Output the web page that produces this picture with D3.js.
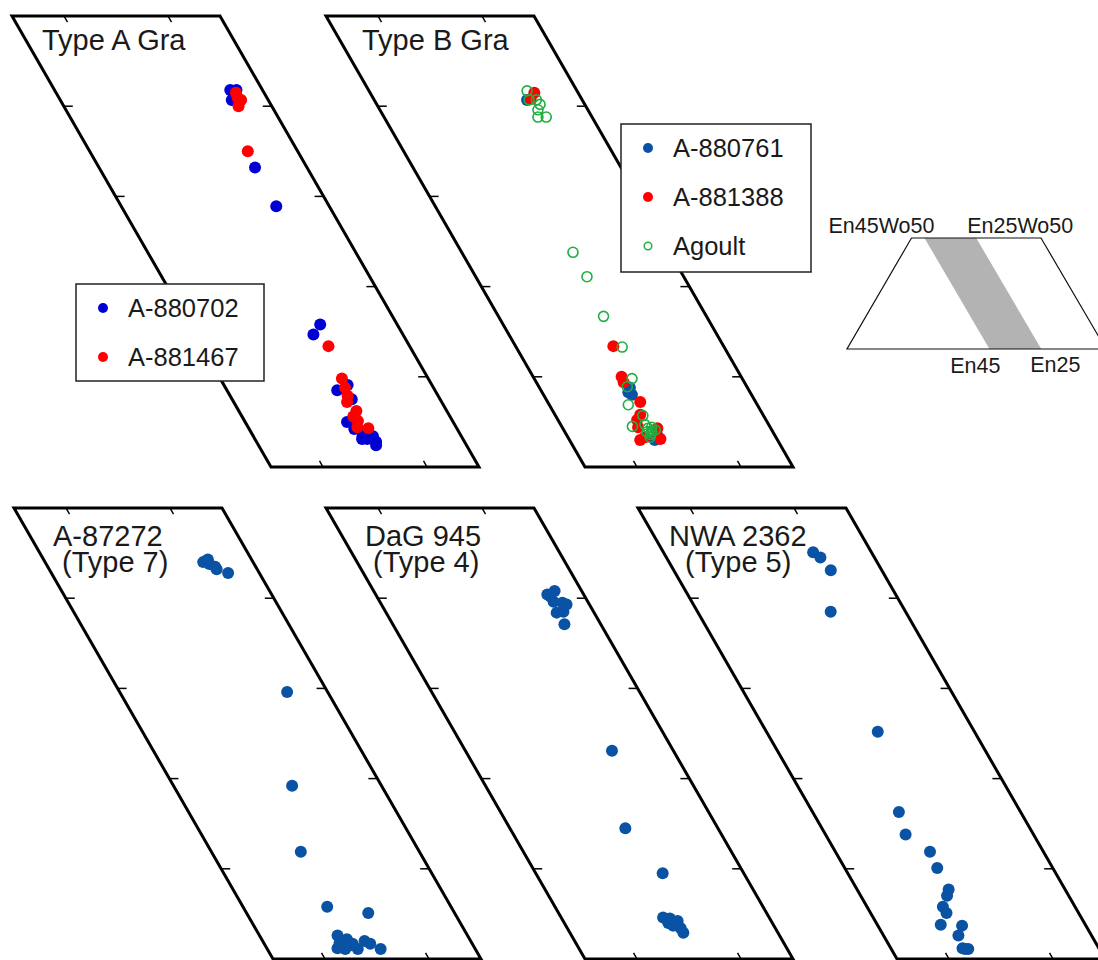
<!DOCTYPE html>
<html>
<head>
<meta charset="utf-8">
<script src="https://cdn.jsdelivr.net/npm/d3@7"></script>
<style>
  body { margin: 0; background: #fff; }
  text { font-family: "Liberation Sans", Arial, sans-serif; fill: #1a1a1a; }
</style>
</head>
<body>
<svg id="chart" width="1098" height="960"></svg>
<script>
// 数据: [En, Wo] (mol%)
const typeA_880702 = [[28.1,41.8],[27.5,41.8],[28.1,41.0],[28.5,40.7],[30.0,33.2],[30.1,28.9],[32.4,15.8],[33.6,14.7],
  [33.1,9.1],[34.4,8.5],[33.5,7.5],[35.2,5.0],[34.9,4.2],[34.5,3.4],[34.2,3.1],[33.5,2.8],[33.5,3.4],[34.7,3.1],[33.9,3.9],[33.7,2.4]];
const typeA_881467 = [[27.8,41.0],[27.6,40.7],[28.2,40.0],[27.7,41.5],[29.8,35.0],[32.8,13.4],[33.3,9.8],[33.5,8.8],
  [33.7,7.9],[34.1,7.2],[33.7,6.2],[34.3,5.6],[34.1,5.1],[34.5,4.4],[33.5,4.3]];
const typeB_880761 = [[30.3,40.7],[36.5,8.0],[36.7,8.3],[36.8,3.0],[36.3,8.8],[36.3,3.4]];
const typeB_881388 = [[29.2,41.5],[29.9,40.8],[35.6,13.4],[36.5,10.0],[36.6,9.4],[36.1,7.2],[36.8,5.8],[37.7,4.4],
  [36.2,3.1],[38.2,3.0],[37.6,3.3],[35.9,4.3],[37.4,5.2]];
const agoult = [[29.8,41.7],[30.1,40.7],[29.4,40.7],[29.8,39.6],[30.2,38.8],[29.4,38.8],[29.3,40.2],[34.3,23.8],
  [34.3,21.1],[34.9,16.7],[34.8,13.3],[35.6,9.8],[36.5,8.9],[37.4,6.9],[36.6,5.7],[38.2,4.5],[36.8,4.3],[36.7,3.8],
  [37.1,3.9],[37.1,3.3],[36.2,4.1],[36.9,4.7],[36.6,4.0],[36.9,3.6],[36.4,4.4]];
const a87272 = [[29.4,44.1],[29.3,43.8],[28.9,43.5],[28.9,43.2],[28.0,42.8],[29.8,44.0],[29.2,44.3],[28.9,29.6],
  [33.6,19.2],[36.4,11.9],[36.9,5.8],[33.3,5.1],[37.5,2.6],[36.8,2.2],[38.2,1.2],[37.5,1.1],[36.5,1.7],[36.3,1.1],
  [35.2,2.0],[34.8,1.7],[34.1,1.1],[37.7,1.8],[36.9,1.5]];
const dag945 = [[28.5,40.4],[27.6,40.8],[28.3,39.6],[27.2,39.3],[28.6,38.4],[27.9,38.5],[28.5,37.1],[28.3,40.2],
  [27.5,39.5],[30.9,23.1],[33.9,14.5],[32.8,9.5],[35.2,4.6],[34.6,4.5],[34.0,4.2],[34.7,3.7],[34.1,3.4],[34.1,2.9],[35.0,4.0]];
const nwa2362 = [[30.6,45.1],[30.2,44.5],[29.9,43.1],[32.2,38.5],[34.3,25.2],[36.7,16.3],[37.3,13.8],[35.9,11.9],
  [36.1,10.1],[36.2,7.7],[36.7,7.0],[37.7,5.8],[37.7,5.1],[38.9,3.8],[36.9,3.7],[37.8,2.6],[37.9,1.1],[37.6,1.1],[38.1,1.2]];

const woTicks = [10, 20, 30, 40];
const enTicks = [40, 30];
const enDomain = [45, 25];
const woDomain = [0, 50];

const colors = { blue: '#0000d2', navy: '#0a52a4', red: '#ff0000', green: '#1fb040' };

const svg = d3.select('#chart');
const W = 208, H = 451, S = 259;   // 平行四边形宽、高、错切量
const r = 6;

const enScale = d3.scaleLinear().domain(enDomain).range([0, W]);
const woScale = d3.scaleLinear().domain(woDomain).range([H, 0]);
const skew = wo => woScale(wo) * S / H;

function makePanel(x0, y0) {
  const g = svg.append('g').attr('transform', `translate(${x0},${y0})`);
  const px = (en, wo) => enScale(en) + skew(wo);
  const py = wo => woScale(wo);
  // 边框
  const corners = [[45, 50], [25, 50], [25, 0], [45, 0]].map(([e, w]) => [px(e, w), py(w)]);
  g.append('path')
    .attr('d', d3.line()(corners) + 'Z')
    .attr('fill', 'none').attr('stroke', '#000').attr('stroke-width', 3)
    .attr('stroke-linejoin', 'miter');
  // 侧边刻度
  woTicks.forEach(w => {
    g.append('line').attr('x1', px(45, w)).attr('x2', px(45, w) + 9)
      .attr('y1', py(w)).attr('y2', py(w)).attr('stroke', '#000').attr('stroke-width', 1.5);
    g.append('line').attr('x1', px(25, w)).attr('x2', px(25, w) - 9)
      .attr('y1', py(w)).attr('y2', py(w)).attr('stroke', '#000').attr('stroke-width', 1.5);
  });
  // 上下刻度 (沿斜边方向)
  const len = Math.hypot(S, H), dx = S / len * 7, dy = H / len * 7;
  enTicks.forEach(e => {
    g.append('line').attr('x1', px(e, 50)).attr('y1', py(50))
      .attr('x2', px(e, 50) + dx).attr('y2', py(50) + dy).attr('stroke', '#000').attr('stroke-width', 1.5);
    g.append('line').attr('x1', px(e, 0)).attr('y1', py(0))
      .attr('x2', px(e, 0) - dx).attr('y2', py(0) - dy).attr('stroke', '#000').attr('stroke-width', 1.5);
  });
  g.px = px; g.py = py;
  return g;
}

function dots(g, data, color, open) {
  g.selectAll(null).data(data).enter().append('circle')
    .attr('cx', d => g.px(d[0], d[1])).attr('cy', d => g.py(d[1]))
    .attr('r', open ? 5 : r)
    .attr('fill', open ? 'none' : color)
    .attr('stroke', color).attr('stroke-width', open ? 1.6 : 0);
}

// 标题: 一个 text, 多行用 tspan
function title(g, lines) {
  const t = g.append('text').attr('font-size', 29);
  lines.forEach(([s, x, y]) => {
    t.append('tspan').attr('x', x).attr('y', y).text(s);
  });
}

// 面板
const p1 = makePanel(12, 16);
dots(p1, typeA_880702, colors.blue);
dots(p1, typeA_881467, colors.red);
title(p1, [['Type A Gra', 30, 34]]);

const p2 = makePanel(326, 16);
dots(p2, typeB_880761, colors.navy);
dots(p2, typeB_881388, colors.red);
dots(p2, agoult, colors.green, true);
title(p2, [['Type B Gra', 36, 34]]);

const p3 = makePanel(14, 508);
dots(p3, a87272, colors.navy);
title(p3, [['A-87272', 39, 38], ['(Type 7)', 48, 64]]);

const p4 = makePanel(326, 508);
dots(p4, dag945, colors.navy);
title(p4, [['DaG 945', 39, 38], ['(Type 4)', 47, 64]]);

const p5 = makePanel(638, 508);
dots(p5, nwa2362, colors.navy);
title(p5, [['NWA 2362', 31, 38], ['(Type 5)', 47, 64]]);

// 图例
function legend(x, y, w, h, items) {
  const g = svg.append('g').attr('transform', `translate(${x},${y})`);
  g.append('rect').attr('width', w).attr('height', h)
    .attr('fill', '#fff').attr('stroke', '#222').attr('stroke-width', 1.5);
  items.forEach(([name, color, open], i) => {
    const cy = 24 + i * 49;
    g.append('circle').attr('cx', 27).attr('cy', cy).attr('r', open ? 3.8 : 5)
      .attr('fill', open ? 'none' : color).attr('stroke', color).attr('stroke-width', open ? 1.5 : 0);
    g.append('text').attr('x', 52).attr('y', cy + 9).attr('font-size', 25.5).text(name);
  });
}
legend(76, 284, 188, 97, [['A-880702', colors.blue], ['A-881467', colors.red]]);
legend(621, 124, 190, 148, [['A-880761', colors.navy], ['A-881388', colors.red], ['Agoult', colors.green, true]]);

// 插图: 辉石四边形
const inset = svg.append('g');
const iEn = d3.scaleLinear().domain([0, 100]).range([1106, 847]);
const iWoY = d3.scaleLinear().domain([0, 50]).range([349, 238]);
const iWoX = d3.scaleLinear().domain([0, 50]).range([0, -65]);
const ix = (en, wo) => iEn(en) + iWoX(wo);
const band = [[45, 50], [25, 50], [25, 0], [45, 0]].map(([e, w]) => [ix(e, w), iWoY(w)]);
inset.append('path').attr('d', d3.line()(band) + 'Z').attr('fill', '#b3b3b3');
const quad = [[50, 50], [0, 50], [0, 0], [100, 0]].map(([e, w]) => [ix(e, w), iWoY(w)]);
inset.append('path').attr('d', d3.line()(quad) + 'Z')
  .attr('fill', 'none').attr('stroke', '#111').attr('stroke-width', 1.2);
const insetLabels = [
  ['En45Wo50', ix(45, 50) + 10, iWoY(50) - 5, 'end'],
  ['En25Wo50', ix(25, 50) - 9, iWoY(50) - 5, 'start'],
  ['En45', ix(45, 0) + 11, iWoY(0) + 24, 'end'],
  ['En25', ix(25, 0) - 11, iWoY(0) + 23, 'start']
];
insetLabels.forEach(([t, x, y, a]) => {
  inset.append('text').attr('x', x).attr('y', y).attr('text-anchor', a)
    .attr('font-size', 21.5).text(t);
});
</script>
</body>
</html>
